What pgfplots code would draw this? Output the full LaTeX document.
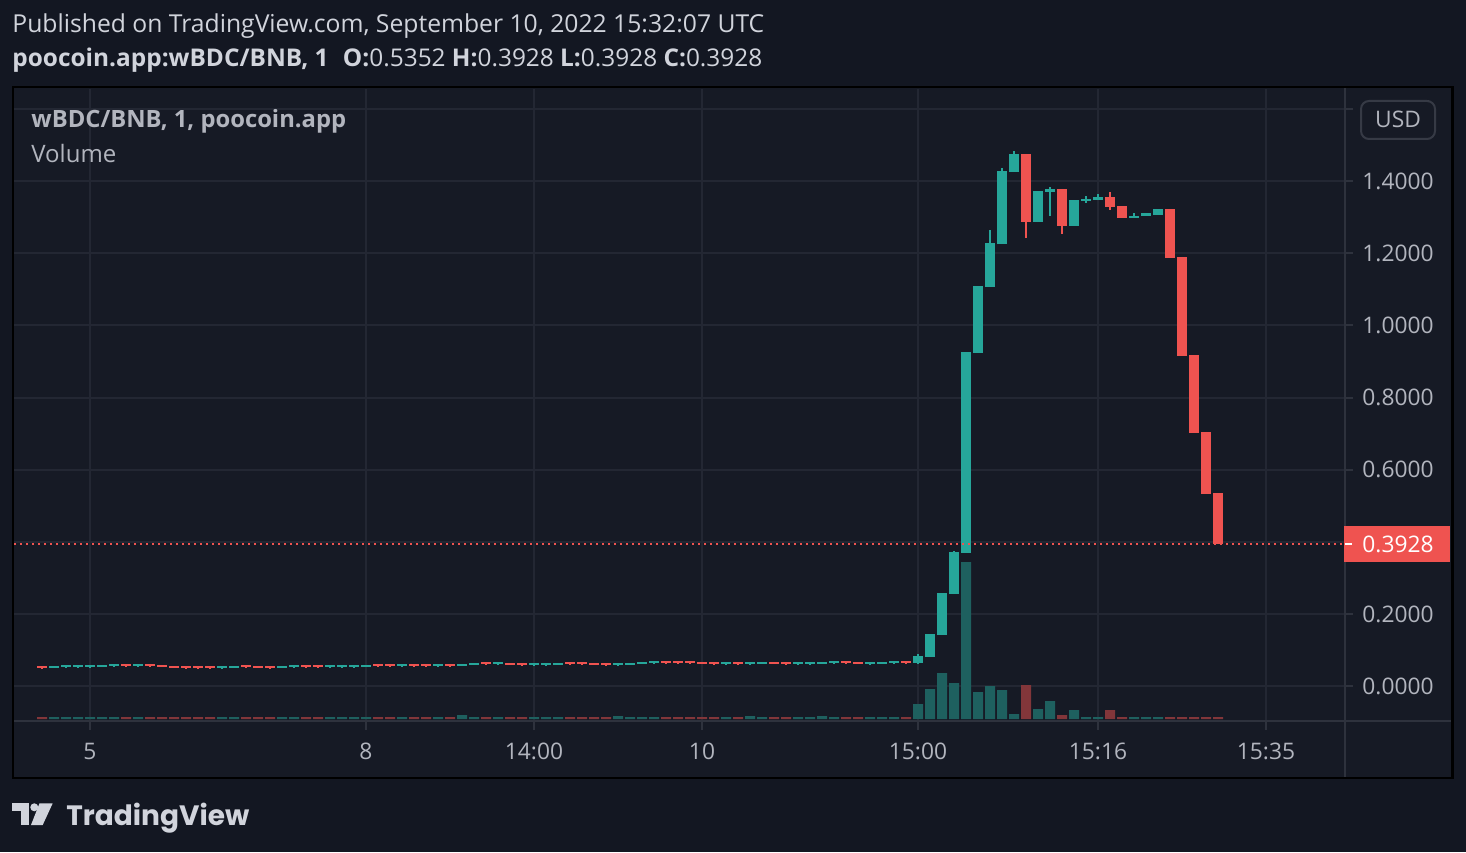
\documentclass[border=0pt]{standalone}
\usepackage{fontspec}
\setmainfont{Open Sans}
\newfontfamily\tvfont{Poppins}
\usepackage{pgfplots}
\usepackage{pgfplotstable}
\pgfplotsset{compat=1.18}
\definecolor{bgout}{HTML}{131722}
\definecolor{bgin}{HTML}{161A25}
\definecolor{gridc}{HTML}{232733}
\definecolor{sepc}{HTML}{2E323D}
\definecolor{tvteal}{HTML}{26A69A}
\definecolor{tvred}{HTML}{EF5350}
\definecolor{volteal}{HTML}{1E605F}
\definecolor{volred}{HTML}{82363A}
\definecolor{hdr}{HTML}{D1D4DC}
\definecolor{lbl}{HTML}{B2B5BE}
\definecolor{boxc}{HTML}{363A45}

% teal (rising) candles: index open high low close
\pgfplotstableread{
k o h l c
1 0.0521 0.0551 0.0521 0.0551
2 0.0516 0.0596 0.0496 0.0576
3 0.0516 0.0596 0.0496 0.0576
4 0.0516 0.0596 0.0496 0.0576
5 0.0549 0.0579 0.0549 0.0579
6 0.0543 0.0623 0.0523 0.0603
8 0.0543 0.0623 0.0523 0.0603
15 0.0488 0.0568 0.0468 0.0548
16 0.0521 0.0551 0.0521 0.0551
20 0.0521 0.0551 0.0521 0.0551
21 0.0516 0.0596 0.0496 0.0576
24 0.0516 0.0596 0.0496 0.0576
25 0.0516 0.0596 0.0496 0.0576
26 0.0516 0.0596 0.0496 0.0576
27 0.0549 0.0579 0.0549 0.0579
30 0.0543 0.0623 0.0523 0.0603
33 0.0543 0.0623 0.0523 0.0603
35 0.0577 0.0607 0.0577 0.0607
36 0.0595 0.0625 0.0595 0.0625
38 0.0599 0.0679 0.0579 0.0659
41 0.0571 0.0651 0.0551 0.0631
42 0.0571 0.0651 0.0551 0.0631
43 0.0595 0.0625 0.0595 0.0625
48 0.0571 0.0651 0.0551 0.0631
49 0.0595 0.0625 0.0595 0.0625
50 0.0623 0.0653 0.0623 0.0653
51 0.0627 0.0707 0.0607 0.0687
57 0.0599 0.0679 0.0579 0.0659
59 0.0599 0.0679 0.0579 0.0659
60 0.0623 0.0653 0.0623 0.0653
63 0.0599 0.0679 0.0579 0.0659
64 0.0599 0.0679 0.0579 0.0659
65 0.0623 0.0653 0.0623 0.0653
66 0.0627 0.0707 0.0607 0.0687
69 0.0599 0.0679 0.0579 0.0659
70 0.0623 0.0653 0.0623 0.0653
71 0.0627 0.0707 0.0607 0.0687
73 0.064 0.089 0.062 0.083
74 0.080 0.144 0.080 0.144
75 0.141 0.258 0.141 0.258
76 0.255 0.375 0.255 0.372
77 0.369 0.926 0.369 0.926
78 0.924 1.110 0.924 1.110
79 1.107 1.265 1.107 1.229
80 1.226 1.437 1.226 1.429
81 1.426 1.484 1.426 1.476
83 1.287 1.373 1.287 1.373
84 1.370 1.384 1.304 1.379
86 1.276 1.348 1.276 1.348
87 1.346 1.359 1.340 1.351
88 1.348 1.365 1.348 1.356
91 1.298 1.312 1.298 1.304
92 1.305 1.312 1.305 1.311
93 1.307 1.323 1.307 1.323
}\tealc

% red (falling) candles: index open high low close
\pgfplotstableread{
k o h l c
0 0.0548 0.0568 0.0468 0.0488
7 0.0603 0.0623 0.0523 0.0543
9 0.0603 0.0623 0.0523 0.0543
10 0.0579 0.0579 0.0549 0.0549
11 0.0551 0.0551 0.0521 0.0521
12 0.0548 0.0568 0.0468 0.0488
13 0.0548 0.0568 0.0468 0.0488
14 0.0548 0.0568 0.0468 0.0488
17 0.0576 0.0596 0.0496 0.0516
18 0.0551 0.0551 0.0521 0.0521
19 0.0548 0.0568 0.0468 0.0488
22 0.0576 0.0596 0.0496 0.0516
23 0.0576 0.0596 0.0496 0.0516
28 0.0603 0.0623 0.0523 0.0543
29 0.0603 0.0623 0.0523 0.0543
31 0.0603 0.0623 0.0523 0.0543
32 0.0603 0.0623 0.0523 0.0543
34 0.0603 0.0623 0.0523 0.0543
37 0.0659 0.0679 0.0579 0.0599
39 0.0625 0.0625 0.0595 0.0595
40 0.0631 0.0651 0.0551 0.0571
44 0.0659 0.0679 0.0579 0.0599
45 0.0659 0.0679 0.0579 0.0599
46 0.0625 0.0625 0.0595 0.0595
47 0.0631 0.0651 0.0551 0.0571
52 0.0687 0.0707 0.0607 0.0627
53 0.0687 0.0707 0.0607 0.0627
54 0.0687 0.0707 0.0607 0.0627
55 0.0653 0.0653 0.0623 0.0623
56 0.0659 0.0679 0.0579 0.0599
58 0.0659 0.0679 0.0579 0.0599
61 0.0653 0.0653 0.0623 0.0623
62 0.0659 0.0679 0.0579 0.0599
67 0.0687 0.0707 0.0607 0.0627
68 0.0653 0.0653 0.0623 0.0623
72 0.0687 0.0707 0.0607 0.0627
82 1.476 1.476 1.243 1.287
85 1.379 1.379 1.254 1.276
89 1.356 1.370 1.320 1.329
90 1.331 1.331 1.298 1.298
94 1.323 1.323 1.187 1.187
95 1.190 1.190 0.915 0.915
96 0.918 0.918 0.702 0.702
97 0.705 0.705 0.533 0.533
98 0.5352 0.5352 0.3928 0.3928
}\redc

% volume (arbitrary units), coloured like the candle
\pgfplotstableread{
k v
1 2
2 2
3 2
4 2
5 2
6 2
8 2
15 2
16 2
20 2
21 2
24 2
25 2
26 2
27 2
30 2
33 2
35 4
36 2
38 2
41 2
42 2
43 2
48 3
49 2
50 2
51 2
57 2
59 3
60 2
63 2
64 2
65 3
66 2
69 2
70 2
71 2
73 15
74 30
75 46
76 36
77 157
78 27
79 33
80 29
81 5
83 10
84 18
86 9
87 2
88 2
91 2
92 2
93 2
}\tealv

\pgfplotstableread{
k v
0 2
7 2
9 2
10 2
11 2
12 2
13 2
14 2
17 2
18 2
19 2
22 2
23 2
28 2
29 2
31 2
32 2
34 2
37 2
39 2
40 2
44 2
45 2
46 2
47 2
52 2
53 2
54 2
55 2
56 2
58 2
61 2
62 2
67 2
68 2
72 2
82 34
85 4
89 9
90 2
94 2
95 2
96 2
97 2
98 2
}\redv

\pgfplotsset{
  paneaxis/.style={
    at={(7pt,65.5pt)}, anchor=south west, scale only axis,
    width=665pt, height=316pt,
    xmin=-2.3333, xmax=108.5,
  },
  candle/.style={draw=none, mark=none,
    error bars/.cd, y dir=both, y explicit, error mark=none,
    error bar style={draw=#1, line width=5pt}},
  wick/.style={draw=none, mark=none,
    error bars/.cd, y dir=both, y explicit, error mark=none,
    error bar style={draw=#1, line width=1pt}},
}

\begin{document}
\begin{tikzpicture}
\begin{scope}[x=0.5pt, y=-0.5pt, yshift=426pt]
\useasboundingbox (0,0) rectangle (1466,852);
\fill[bgout] (0,0) rectangle (1466,852);
\fill[bgin] (13,87) rectangle (1452.5,777.7);
\end{scope}

% grid, ticks and tick labels
\begin{axis}[paneaxis,
  ymin=-0.09709, ymax=1.65603,
  axis line style={draw=none},
  xtick={4,27,41,55,73,88,102},
  xticklabels={5,8,14:00,10,15:00,15:16,15:35},
  ytick={0,0.2,0.4,0.6,0.8,1.0,1.2,1.4,1.6},
  yticklabels={0.0000,0.2000,0.4000,0.6000,0.8000,1.0000,1.2000,1.4000,1.6000},
  xtick pos=left, ytick pos=right, yticklabel pos=right,
  tick align=outside, major tick length=4.5pt,
  tick style={sepc, line width=1pt},
  grid=major, major grid style={gridc, line width=1pt},
  ticklabel style={font=\fontsize{11.4}{13}\selectfont, text=lbl, inner sep=0pt},
  yticklabel style={anchor=west, xshift=4.5pt},
  xticklabel style={anchor=north, yshift=-6.5pt},
]
\end{axis}

% volume
\begin{axis}[paneaxis, hide axis, ymin=-2, ymax=630,
  ybar, bar width=5pt, bar shift=0pt]
\addplot[fill=volteal, draw=none] table[x=k, y=v]{\tealv};
\addplot[fill=volred, draw=none] table[x=k, y=v]{\redv};
\end{axis}

% candles
\begin{axis}[paneaxis, hide axis, ymin=-0.09709, ymax=1.65603]
% wicks
\addplot[wick=tvteal]
  table[x=k, y=o, y error plus expr=\thisrow{h}-\thisrow{o},
        y error minus expr=\thisrow{o}-\thisrow{l}]{\tealc};
\addplot[wick=tvred]
  table[x=k, y=o, y error plus expr=\thisrow{h}-\thisrow{o},
        y error minus expr=\thisrow{o}-\thisrow{l}]{\redc};
% bodies
\addplot[candle=tvteal]
  table[x=k, y expr=(\thisrow{o}+\thisrow{c})/2,
        y error expr={max(abs(\thisrow{c}-\thisrow{o})/2,0.0028)}]{\tealc};
\addplot[candle=tvred]
  table[x=k, y expr=(\thisrow{o}+\thisrow{c})/2,
        y error expr={max(abs(\thisrow{c}-\thisrow{o})/2,0.0028)}]{\redc};
% last price line
\addplot[tvred, line width=0.9pt, dash pattern=on 1pt off 2pt]
  coordinates {(-2.3333,0.3928) (108.5,0.3928)};
\end{axis}

\begin{scope}[x=0.5pt, y=-0.5pt, yshift=426pt]
% separators and frame
\draw[sepc, line width=1pt] (14,721) -- (1452,721);
\draw[sepc, line width=1pt] (1345,88) -- (1345,777);
\draw[black, line width=1.2pt] (13,87) rectangle (1452.5,777.7);

% last price label
\fill[tvred] (1344,526) rectangle (1450,562);
\draw[white, line width=1pt] (1345,544) -- (1352,544);
\node[anchor=west, inner sep=0pt, text=white, font=\fontsize{11.4}{13}\selectfont] at (1362,544) {0.3928};

% currency box
\draw[boxc, fill=bgin, line width=1pt, rounded corners=4pt] (1361,101) rectangle (1435,139);
\node[text=lbl, inner sep=0pt, font=\fontsize{11.4}{13}\selectfont] at (1398,119) {USD};

% titles
\node[anchor=base west, inner sep=0pt, text=hdr, font=\fontsize{12.35}{14}\selectfont] at (12,33)
  {Published on TradingView.com, September 10, 2022 15:32:07 UTC};
\node[anchor=base west, inner sep=0pt, text=hdr, font=\fontsize{12.2}{14}\selectfont] at (12,67)
  {\textbf{poocoin.app:wBDC/BNB, 1}\hspace{4pt} \textbf{O:}0.5352 \textbf{H:}0.3928 \textbf{L:}0.3928 \textbf{C:}0.3928};
\node[anchor=base west, inner sep=0pt, text=lbl, font=\fontsize{11.9}{14}\selectfont\bfseries] at (31,128)
  {wBDC/BNB, 1, poocoin.app};
\node[anchor=base west, inner sep=0pt, text=lbl, font=\fontsize{12}{14}\selectfont] at (31,163)
  {Volume};

% TradingView logo
\fill[hdr] (12.3,803.3) rectangle (29.3,810.7);
\fill[hdr] (20.7,803.3) rectangle (29.3,825);
\fill[hdr] (34.3,807.3) circle (2pt);
\fill[hdr] (39.5,803.3) -- (52.7,803.3) -- (42.7,825) -- (31,825) -- cycle;
\node[anchor=base west, inner sep=0pt, text=hdr, font=\tvfont\fontsize{14}{17}\selectfont\bfseries] at (66,825)
  {TradingView};
\end{scope}
\end{tikzpicture}
\end{document}
